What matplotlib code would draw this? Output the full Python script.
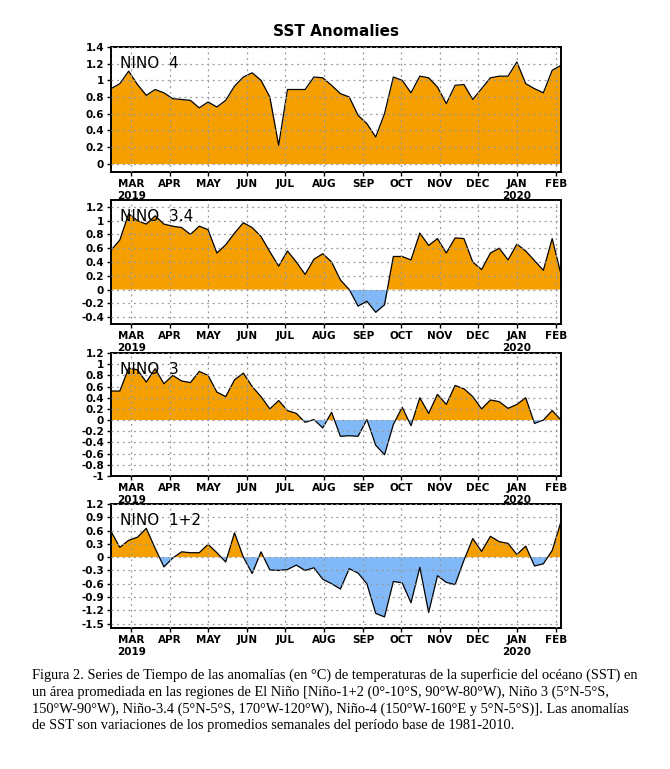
import numpy as np
import pandas as pd
import matplotlib
matplotlib.use("Agg")
import matplotlib.pyplot as plt
import matplotlib.dates as mdates

# weekly data, Wed-centered, 13 Feb 2019 -> 5 Feb 2020
semanas = pd.date_range("2019-02-13", periods=52, freq="7D")

nino4 = [0.90, 0.96, 1.11, 0.95, 0.82, 0.89, 0.85, 0.78, 0.77, 0.76,
         0.67, 0.74, 0.68, 0.76, 0.93, 1.04, 1.09, 1.00, 0.80, 0.22,
         0.89, 0.89, 0.89, 1.04, 1.03, 0.94, 0.84, 0.80, 0.58, 0.48,
         0.32, 0.60, 1.04, 1.00, 0.85, 1.05, 1.03, 0.92, 0.72, 0.94,
         0.95, 0.77, 0.90, 1.03, 1.05, 1.05, 1.22, 0.96, 0.90, 0.85,
         1.12, 1.18]
nino34 = [0.57, 0.72, 1.10, 1.00, 0.95, 1.07, 0.95, 0.92, 0.90, 0.80,
          0.92, 0.87, 0.53, 0.65, 0.82, 0.97, 0.90, 0.77, 0.55, 0.34,
          0.56, 0.40, 0.22, 0.44, 0.52, 0.40, 0.14, 0.00, -0.24, -0.17,
          -0.33, -0.22, 0.48, 0.48, 0.43, 0.82, 0.64, 0.74, 0.53, 0.75,
          0.74, 0.40, 0.29, 0.53, 0.60, 0.43, 0.66, 0.56, 0.42, 0.28,
          0.74, 0.22]
nino3 = [0.52, 0.52, 0.93, 0.90, 0.68, 0.92, 0.65, 0.80, 0.70, 0.67,
         0.87, 0.80, 0.50, 0.42, 0.72, 0.84, 0.60, 0.42, 0.20, 0.35,
         0.17, 0.12, -0.04, 0.01, -0.14, 0.14, -0.29, -0.28, -0.29, 0.01,
         -0.45, -0.62, -0.08, 0.23, -0.10, 0.40, 0.12, 0.46, 0.28, 0.62,
         0.56, 0.42, 0.20, 0.36, 0.33, 0.21, 0.28, 0.40, -0.06, 0.00,
         0.17, 0.00]
nino12 = [0.58, 0.22, 0.38, 0.45, 0.65, 0.20, -0.22, -0.02, 0.12, 0.10,
          0.10, 0.29, 0.10, -0.11, 0.55, 0.00, -0.37, 0.12, -0.29, -0.30,
          -0.28, -0.18, -0.30, -0.24, -0.50, -0.60, -0.72, -0.26, -0.36, -0.60,
          -1.27, -1.35, -0.55, -0.58, -1.03, -0.23, -1.25, -0.42, -0.57, -0.62,
          -0.07, 0.42, 0.13, 0.47, 0.35, 0.31, 0.06, 0.25, -0.20, -0.15,
          0.15, 0.80]

paneles = [
    ("NINO  4", nino4, (-0.1, 1.4), np.arange(0, 1.41, 0.2)),
    ("NINO  3.4", nino34, (-0.5, 1.3), np.arange(-0.4, 1.21, 0.2)),
    ("NINO  3", nino3, (-1.0, 1.2), np.arange(-1.0, 1.21, 0.2)),
    ("NINO  1+2", nino12, (-1.6, 1.2), np.arange(-1.5, 1.21, 0.3)),
]
# top/bottom of each panel in pixels
bordes = [(47, 172), (200, 324), (353, 476), (504, 628)]

W, H = 670, 769
fig = plt.figure(figsize=(W / 100, H / 100), dpi=100)

naranja = "#F5A000"
azul = "#80B8F8"
meses = pd.date_range("2019-03-01", "2020-02-01", freq="MS")
etiquetas = [m.strftime("%b").upper() for m in meses]
etiquetas[0] = "MAR\n2019"
etiquetas[10] = "JAN\n2020"

for (nombre, vals, ylim, yt), (top, bot) in zip(paneles, bordes):
    ax = fig.add_axes([111 / W, 1 - bot / H, 450 / W, (bot - top) / H])
    v = np.array(vals)
    x = mdates.date2num(semanas)
    ax.fill_between(x, v, 0, where=v >= 0, interpolate=True, color=naranja, lw=0)
    ax.fill_between(x, v, 0, where=v <= 0, interpolate=True, color=azul, lw=0)
    ax.plot(x, v, color="black", lw=0.9)
    ax.set_xlim(x[0], x[-1])
    ax.set_ylim(*ylim)
    ax.set_yticks(yt)
    ax.set_yticklabels(["%g" % (round(t, 1) + 0.0) for t in yt])
    ax.set_xticks(mdates.date2num(meses))
    ax.set_xticklabels(etiquetas)
    ax.grid(True, color="#999999", ls=(0, (1.5, 3)), lw=0.9)
    ax.set_axisbelow(False)
    ax.tick_params(axis="both", length=3, width=1, pad=2)
    for lab in ax.get_xticklabels() + ax.get_yticklabels():
        lab.set_fontsize(7.5)
        lab.set_fontweight("bold")
    for s in ax.spines.values():
        s.set_linewidth(1.4)
    ax.text(0.02, 0.93, nombre, transform=ax.transAxes, fontsize=11,
            va="top", ha="left")

fig.text(336 / W, 1 - 32 / H, "SST Anomalies", ha="center", va="center",
         fontsize=11, fontweight="bold")

caption = ("Figura 2. Series de Tiempo de las anomalías (en °C) de temperaturas de la superficie del océano (SST) en\n"
           "un área promediada en las regiones de El Niño [Niño-1+2 (0°-10°S, 90°W-80°W), Niño 3 (5°N-5°S,\n"
           "150°W-90°W), Niño-3.4 (5°N-5°S, 170°W-120°W), Niño-4 (150°W-160°E y 5°N-5°S)]. Las anomalías\n"
           "de SST son variaciones de los promedios semanales del período base de 1981-2010.")
fig.text(32 / W, 1 - 668 / H, caption, ha="left", va="top", fontsize=10.4,
         family="Liberation Serif", linespacing=1.33)

fig.savefig("out.png", dpi=100)
